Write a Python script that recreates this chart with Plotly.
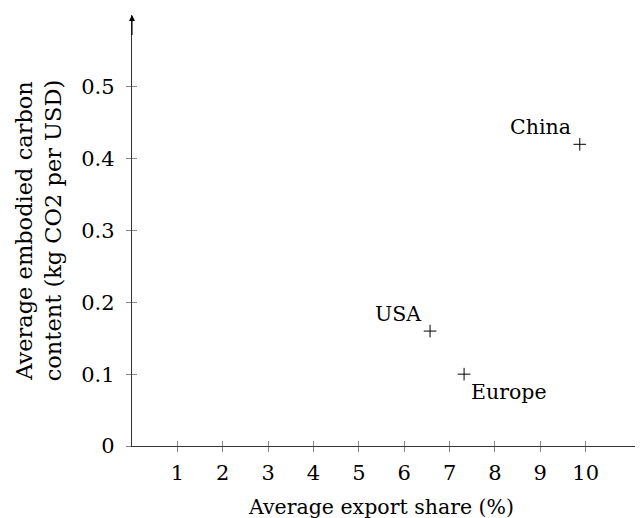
import plotly.graph_objects as go

regions = ["China", "USA", "Europe"]
export_share = [9.87, 6.57, 7.32]
carbon = [0.42, 0.16, 0.10]
label_pos = ["upper-left", "upper-left", "lower-right"]

x_ticks = [1, 2, 3, 4, 5, 6, 7, 8, 9, 10]
y_ticks = [0, 0.1, 0.2, 0.3, 0.4, 0.5]
y_tick_text = ["0", "0.1", "0.2", "0.3", "0.4", "0.5"]

FONT = "DejaVu Serif"
fsize = 20.5

fig = go.Figure()
fig.add_trace(go.Scatter(
    x=export_share, y=carbon, mode="markers",
    marker=dict(symbol="cross-thin", size=9, line=dict(width=1, color="black"), color="black"),
    showlegend=False, hoverinfo="skip",
))
fig.add_trace(go.Scatter(x=export_share, y=carbon, mode="markers", marker=dict(opacity=0),
                         xaxis="x2", yaxis="y2", showlegend=False, hoverinfo="skip"))

for name, xv, yv, pos in zip(regions, export_share, carbon, label_pos):
    if pos == "upper-left":
        fig.add_annotation(x=xv, y=yv, text=name, showarrow=False, xanchor="right", yanchor="middle",
                           xshift=-7, yshift=17, font=dict(family=FONT, size=fsize, color="black"))
    else:
        fig.add_annotation(x=xv, y=yv, text=name, showarrow=False, xanchor="left", yanchor="middle",
                           xshift=5, yshift=-18, font=dict(family=FONT, size=fsize, color="black"))

fig.add_annotation(x=0, y=0.6, ax=0, ay=0.57, axref="x", ayref="y", xref="x", yref="y",
                   showarrow=True, arrowhead=2, arrowsize=1.1, arrowwidth=1.1, arrowcolor="black", text="")

# x-axis title
fig.add_annotation(text="Average export share (%)", xref="paper", yref="paper", x=0.48, y=0,
                   xanchor="center", yanchor="middle", yshift=-61, showarrow=False,
                   font=dict(family=FONT, size=fsize, color="black"))

xr = [0, 11.44]
yr = [0, 0.6]
fig.update_layout(
    width=643, height=518,
    margin=dict(l=124, r=0, t=7, b=80),
    plot_bgcolor="white", paper_bgcolor="white",
    font=dict(family=FONT, size=fsize, color="black"),
    xaxis=dict(range=xr, tickvals=x_ticks, ticks="outside", ticklen=5, tickcolor="#888", tickwidth=1,
               showline=True, linecolor="#333", linewidth=1.3, showgrid=False, zeroline=False,
               ticklabelstandoff=3, tickfont=dict(size=21)),
    yaxis=dict(range=yr, tickvals=y_ticks, ticktext=y_tick_text, ticks="outside", ticklen=5,
               tickcolor="#888", tickwidth=1, showline=True, linecolor="#333", linewidth=1.3,
               showgrid=False, zeroline=False, ticklabelstandoff=7, tickfont=dict(size=21),
               title=dict(text="Average embodied carbon<br>content (kg CO2 per USD)", standoff=13,
                          font=dict(size=22.5))),
    xaxis2=dict(range=xr, overlaying="x", tickvals=x_ticks, ticks="inside", ticklen=5, tickcolor="#888",
                showticklabels=False, showgrid=False, zeroline=False, showline=False),
    yaxis2=dict(range=yr, overlaying="y", tickvals=y_ticks, ticks="inside", ticklen=5, tickcolor="#888",
                showticklabels=False, showgrid=False, zeroline=False, showline=False),
)

fig.write_html("out.html")
